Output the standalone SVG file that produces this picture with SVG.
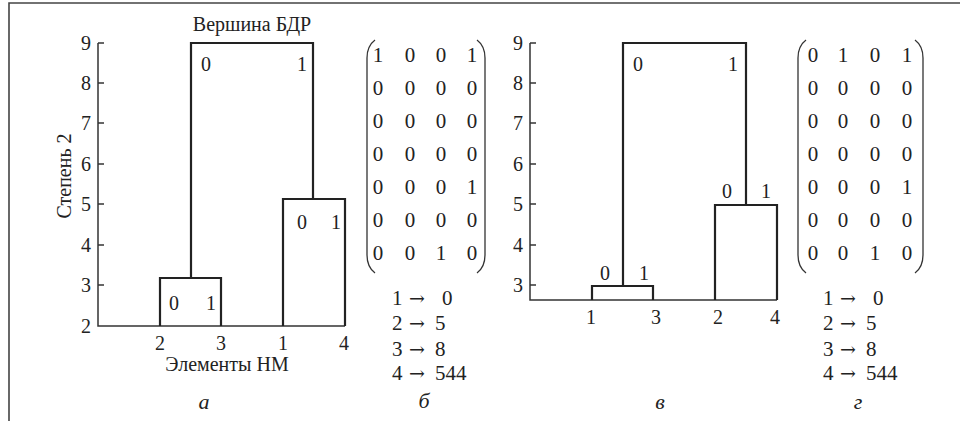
<svg xmlns="http://www.w3.org/2000/svg" width="960" height="421" viewBox="0 0 960 421">
<style>
text{font-family:"Liberation Serif","Times New Roman",serif;fill:#222;}
.t{font-size:20px;text-anchor:middle;}
.m{font-size:21px;text-anchor:middle;}
.s{font-size:21px;}
.ar{font-size:19px;font-family:"DejaVu Serif",serif;}
.it{font-size:22px;font-style:italic;text-anchor:middle;}
.axis{fill:none;stroke:#333;stroke-width:1.5;}
.tree{fill:none;stroke:#222;stroke-width:2.2;}
.frame{fill:none;stroke:#444;stroke-width:1.6;}
.par{fill:none;stroke:#333;stroke-width:1.3;}
</style>
<defs>
<path id="tk" d="M0,0 H6" class="axis"/>
</defs>
<path class="frame" d="M9,421 V3 H960"/>

<g id="panel-a">
  <text x="252" y="31" class="t">Вершина БДР</text>
  <g id="a-axis">
    <path class="axis" d="M98,43 V326 H345"/>
    <use href="#tk" x="98" y="43"/><use href="#tk" x="98" y="83"/><use href="#tk" x="98" y="123"/>
    <use href="#tk" x="98" y="164"/><use href="#tk" x="98" y="204"/><use href="#tk" x="98" y="245"/>
    <use href="#tk" x="98" y="285"/>
    <text x="86" y="50" class="t">9</text><text x="86" y="90" class="t">8</text><text x="86" y="130" class="t">7</text>
    <text x="86" y="171" class="t">6</text><text x="86" y="211" class="t">5</text><text x="86" y="252" class="t">4</text>
    <text x="86" y="292" class="t">3</text><text x="86" y="333" class="t">2</text>
    <text transform="translate(71,176) rotate(-90)" class="t">Степень 2</text>
  </g>
  <g id="a-root">
    <path class="tree" d="M191,278 V43 H313 V199"/>
    <text x="206" y="71" class="t">0</text><text x="302" y="71" class="t">1</text>
  </g>
  <g id="a-left">
    <path class="tree" d="M160,326 V278 H221 V326"/>
    <text x="174" y="310" class="t">0</text><text x="211" y="310" class="t">1</text>
  </g>
  <g id="a-right">
    <path class="tree" d="M283,326 V199 H345 V326"/>
    <text x="302" y="229" class="t">0</text><text x="336" y="229" class="t">1</text>
  </g>
  <g id="a-leaves">
    <text x="160" y="350" class="t">2</text><text x="221" y="350" class="t">3</text>
    <text x="283" y="350" class="t">1</text><text x="344" y="350" class="t">4</text>
  </g>
  <text x="227" y="371" class="t">Элементы НМ</text>
  <text x="204" y="409" class="it">а</text>
</g>

<g id="panel-b">
  <path class="par" d="M375,40 Q367,46 367,58 V255 Q367,267 375,273"/>
  <path class="par" d="M477,40 Q485,46 485,58 V255 Q485,267 477,273"/>
  <g>
    <text x="378" y="62" class="m">1</text><text x="410" y="62" class="m">0</text><text x="441" y="62" class="m">0</text><text x="472" y="62" class="m">1</text>
    <text x="378" y="95" class="m">0</text><text x="410" y="95" class="m">0</text><text x="441" y="95" class="m">0</text><text x="472" y="95" class="m">0</text>
    <text x="378" y="128" class="m">0</text><text x="410" y="128" class="m">0</text><text x="441" y="128" class="m">0</text><text x="472" y="128" class="m">0</text>
    <text x="378" y="161" class="m">0</text><text x="410" y="161" class="m">0</text><text x="441" y="161" class="m">0</text><text x="472" y="161" class="m">0</text>
    <text x="378" y="194" class="m">0</text><text x="410" y="194" class="m">0</text><text x="441" y="194" class="m">0</text><text x="472" y="194" class="m">1</text>
    <text x="378" y="227" class="m">0</text><text x="410" y="227" class="m">0</text><text x="441" y="227" class="m">0</text><text x="472" y="227" class="m">0</text>
    <text x="378" y="260" class="m">0</text><text x="410" y="260" class="m">0</text><text x="441" y="260" class="m">1</text><text x="472" y="260" class="m">0</text>
  </g>
  <text x="392" y="305" class="s">1<tspan x="409" class="ar">→</tspan><tspan x="442">0</tspan></text>
  <text x="392" y="330" class="s">2<tspan x="409" class="ar">→</tspan><tspan x="435">5</tspan></text>
  <text x="392" y="356" class="s">3<tspan x="409" class="ar">→</tspan><tspan x="435">8</tspan></text>
  <text x="392" y="380" class="s">4<tspan x="409" class="ar">→</tspan><tspan x="435">544</tspan></text>
  <text x="424" y="408" class="it">б</text>
</g>

<g id="panel-c">
  <g id="c-axis">
    <path class="axis" d="M530,43 V300 H777"/>
    <use href="#tk" x="530" y="43"/><use href="#tk" x="530" y="83"/><use href="#tk" x="530" y="123"/>
    <use href="#tk" x="530" y="164"/><use href="#tk" x="530" y="204"/><use href="#tk" x="530" y="245"/>
    <use href="#tk" x="530" y="285"/>
    <text x="518" y="50" class="t">9</text><text x="518" y="90" class="t">8</text><text x="518" y="130" class="t">7</text>
    <text x="518" y="171" class="t">6</text><text x="518" y="211" class="t">5</text><text x="518" y="252" class="t">4</text>
    <text x="518" y="292" class="t">3</text>
  </g>
  <g id="c-root">
    <path class="tree" d="M623,286 V43 H746 V205"/>
    <text x="638" y="71" class="t">0</text><text x="733" y="71" class="t">1</text>
  </g>
  <g id="c-left">
    <path class="tree" d="M592,300 V286 H653 V300"/>
    <text x="605" y="280" class="t">0</text><text x="644" y="280" class="t">1</text>
  </g>
  <g id="c-right">
    <path class="tree" d="M715,300 V205 H777 V300"/>
    <text x="727" y="198" class="t">0</text><text x="766" y="198" class="t">1</text>
  </g>
  <g id="c-leaves">
    <text x="591" y="324" class="t">1</text><text x="656" y="324" class="t">3</text>
    <text x="718" y="324" class="t">2</text><text x="775" y="324" class="t">4</text>
  </g>
  <text x="660" y="409" class="it">в</text>
</g>

<g id="panel-d">
  <path class="par" d="M806,40 Q798,46 798,58 V255 Q798,267 806,273"/>
  <path class="par" d="M915,40 Q923,46 923,58 V255 Q923,267 915,273"/>
  <g>
    <text x="813" y="62" class="m">0</text><text x="843" y="62" class="m">1</text><text x="875" y="62" class="m">0</text><text x="907" y="62" class="m">1</text>
    <text x="813" y="95" class="m">0</text><text x="843" y="95" class="m">0</text><text x="875" y="95" class="m">0</text><text x="907" y="95" class="m">0</text>
    <text x="813" y="128" class="m">0</text><text x="843" y="128" class="m">0</text><text x="875" y="128" class="m">0</text><text x="907" y="128" class="m">0</text>
    <text x="813" y="161" class="m">0</text><text x="843" y="161" class="m">0</text><text x="875" y="161" class="m">0</text><text x="907" y="161" class="m">0</text>
    <text x="813" y="194" class="m">0</text><text x="843" y="194" class="m">0</text><text x="875" y="194" class="m">0</text><text x="907" y="194" class="m">1</text>
    <text x="813" y="227" class="m">0</text><text x="843" y="227" class="m">0</text><text x="875" y="227" class="m">0</text><text x="907" y="227" class="m">0</text>
    <text x="813" y="260" class="m">0</text><text x="843" y="260" class="m">0</text><text x="875" y="260" class="m">1</text><text x="907" y="260" class="m">0</text>
  </g>
  <text x="823" y="305" class="s">1<tspan x="840" class="ar">→</tspan><tspan x="873">0</tspan></text>
  <text x="823" y="330" class="s">2<tspan x="840" class="ar">→</tspan><tspan x="866">5</tspan></text>
  <text x="823" y="356" class="s">3<tspan x="840" class="ar">→</tspan><tspan x="866">8</tspan></text>
  <text x="823" y="380" class="s">4<tspan x="840" class="ar">→</tspan><tspan x="866">544</tspan></text>
  <text x="858" y="409" class="it">г</text>
</g>
</svg>
